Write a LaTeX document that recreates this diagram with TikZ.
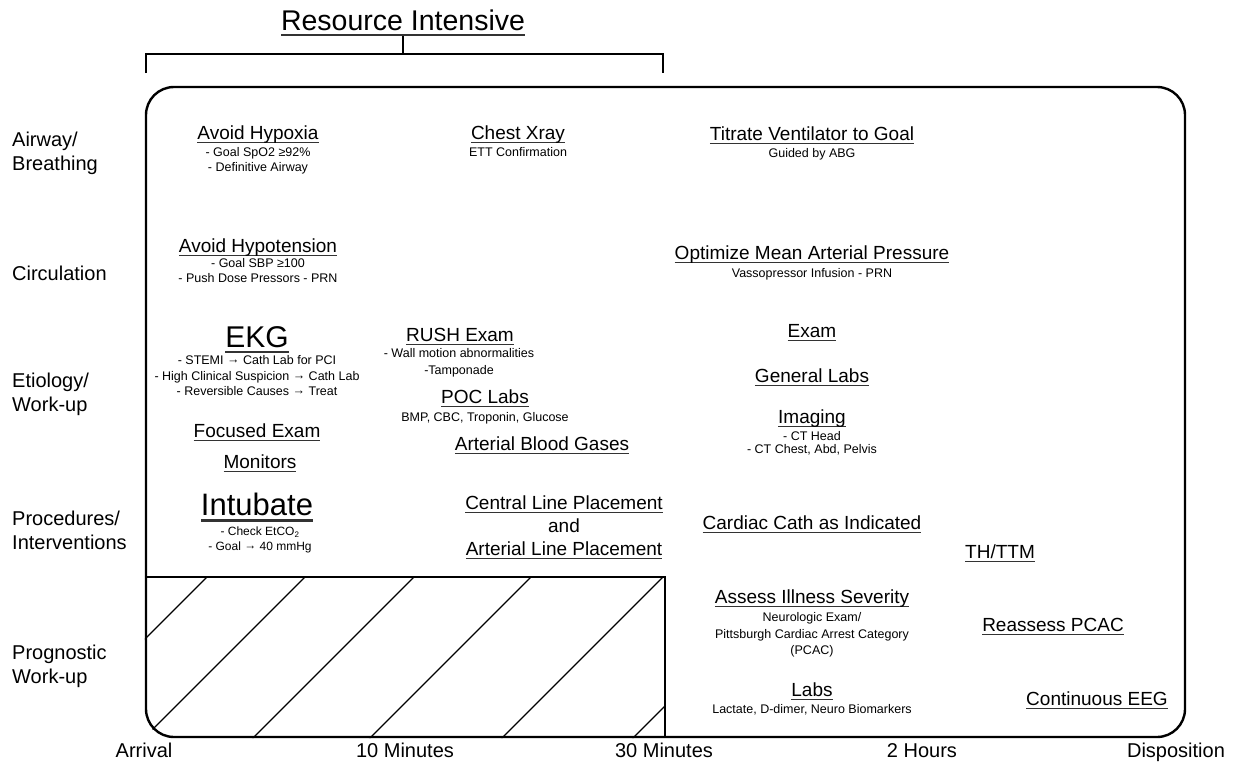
\documentclass[tikz,border=0pt]{standalone}
\usepackage{fontspec}
\setmainfont{Liberation Sans}
\usetikzlibrary{calc,positioning}
\newsavebox\hdbox
\newcommand{\hd}[1]{\leavevmode\sbox\hdbox{#1}\rlap{\color{black!80}\raisebox{-0.21em}{\rule{\wd\hdbox}{0.075em}}}\usebox\hdbox}
\newcommand{\ra}{\raisebox{0.08em}{→}}
\tikzset{
  every node/.style={inner sep=0pt},
  rowlab/.style={anchor=base west, align=left, font=\fontsize{20}{24.5}\selectfont},
  timelab/.style={anchor=base, font=\fontsize{20}{24}\selectfont},
  head/.style={anchor=base, font=\fontsize{19}{22}\selectfont},
  bighead/.style={anchor=base, font=\fontsize{30}{34}\selectfont},
  note/.style={anchor=base, align=center, font=\fontsize{12.5}{15.5}\selectfont},
  board/.style={draw, line width=2.4pt, rounded corners=28pt, minimum width=1039pt, minimum height=650pt},
  brace/.style={draw, line width=1.4pt},
  hatch/.style={line width=1.1pt},
  hatchedge/.style={line width=1.5pt},
}
\begin{document}
\begin{tikzpicture}[x=1pt,y=-1pt]
  \useasboundingbox (0,0) rectangle (1235,761);
  % frame and resource-intensive bracket
  \node[board] (board) at (665.5,412) {};
  \node[anchor=base, font=\fontsize{28.5}{32}\selectfont] (title) at (403,30) {\hd{Resource Intensive}};
  \coordinate (brkL) at (146,54);
  \coordinate (brkR) at (663,54);
  \draw[brace] (title.south) -- (title.south |- brkL);
  \draw[brace] ($(brkL)+(0,19)$) -- (brkL) -- (brkR) -- ++(0,19);

  % hatched corner
  \coordinate (hatchTR) at (665,577);
  \begin{scope}
    \clip[rounded corners=28pt] (board.north west) rectangle (board.south east);
    \clip (board.west |- hatchTR) rectangle (hatchTR |- board.south);
    \foreach \t in {207,305,414,531,663,794}
      \draw[hatch] (\t,577) -- ++(-175,175);
  \end{scope}
  \draw[hatchedge] (board.west |- hatchTR) -- (hatchTR) -- (hatchTR |- board.south);

  % row labels (base = last line)
  \node[rowlab] (rAir) at (12,170.5) {Airway/\\Breathing};
  \node[rowlab] (rCirc) at (12,280) {Circulation};
  \node[rowlab] (rEtio) at (12,411.5) {Etiology/\\Work-up};
  \node[rowlab] (rProc) at (12,549.5) {Procedures/\\Interventions};
  \node[rowlab] (rProg) at (12,683.5) {Prognostic\\Work-up};

  % time axis
  \node[timelab] (tArr) at (144,757) {Arrival};
  \node[timelab] (tTen) at (405,757) {10 Minutes};
  \node[timelab] (tThirty) at (664,757) {30 Minutes};
  \node[timelab] (tTwo) at (922,757) {2 Hours};
  \node[timelab] (tDisp) at (1176,757) {Disposition};

  % airway / breathing
  \node[head] (hypox) at (258,139) {\hd{Avoid Hypoxia}};
  \node[note, font=\fontsize{12.5}{15}\selectfont] (hypoxN) at ($(hypox.base)+(0,32.5)$) {- Goal SpO2 ≥92\%\\- Definitive Airway};
  \node[head] (xray) at (518,139) {\hd{Chest Xray}};
  \node[note] (xrayN) at ($(xray.base)+(0,17.5)$) {ETT Confirmation};
  \node[head] (vent) at (812,140) {\hd{Titrate Ventilator to Goal}};
  \node[note] (ventN) at ($(vent.base)+(0,17)$) {Guided by ABG};

  % circulation
  \node[head] (hypot) at (258,252) {\hd{Avoid Hypotension}};
  \node[note, font=\fontsize{12.5}{15}\selectfont] (hypotN) at ($(hypot.base)+(0,30.5)$) {- Goal SBP ≥100\\- Push Dose Pressors - PRN};
  \node[head] (map) at (812,259) {\hd{Optimize Mean Arterial Pressure}};
  \node[note] (mapN) at ($(map.base)+(0,18.5)$) {Vassopressor Infusion - PRN};

  % etiology / work-up
  \node[bighead] (ekg) at (257,347) {\hd{EKG}};
  \node[note] (ekgN) at ($(ekg.base)+(0,48.5)$) {- STEMI \ra{} Cath Lab for PCI\\- High Clinical Suspicion \ra{} Cath Lab\\- Reversible Causes \ra{} Treat};
  \node[head] (rush) at (460,341) {\hd{RUSH Exam}};
  \node[note, font=\fontsize{12.5}{17}\selectfont] (rushN) at ($(rush.base)+(-1,33.5)$) {- Wall motion abnormalities\\-Tamponade};
  \node[head] (poc) at (485,403) {\hd{POC Labs}};
  \node[note] (pocN) at ($(poc.base)+(0,18.5)$) {BMP, CBC, Troponin, Glucose};
  \node[head] (abg) at (542,450) {\hd{Arterial Blood Gases}};
  \node[head] (focus) at (257,437) {\hd{Focused Exam}};
  \node[head] (mon) at (260,468) {\hd{Monitors}};
  \node[head] (exam) at (812,337) {\hd{Exam}};
  \node[head] (glabs) at (812,382) {\hd{General Labs}};
  \node[head] (img) at (812,423) {\hd{Imaging}};
  \node[note, font=\fontsize{12.5}{13}\selectfont] (imgN) at ($(img.base)+(0,30.5)$) {- CT Head\\- CT Chest, Abd, Pelvis};

  % procedures / interventions
  \node[bighead, font=\fontsize{31}{34}\selectfont] (intub) at (257,515) {\hd{Intubate}};
  \node[note, font=\fontsize{12}{15}\selectfont] (intubN) at ($(intub.base)+(3,35.5)$) {- Check EtCO\textsubscript{2}\\- Goal \ra{} 40 mmHg};
  \node[head] (cvc) at (564,509) {\hd{Central Line Placement}};
  \node[head] (and) at (564,532) {and};
  \node[head] (art) at (564,555) {\hd{Arterial Line Placement}};
  \node[head] (cath) at (812,529) {\hd{Cardiac Cath as Indicated}};
  \node[head] (ttm) at (1000,558) {\hd{TH/TTM}};

  % prognostic work-up
  \node[head] (sev) at (812,603) {\hd{Assess Illness Severity}};
  \node[note, font=\fontsize{12.5}{16.5}\selectfont] (sevN) at ($(sev.base)+(0,51.5)$) {Neurologic Exam/\\Pittsburgh Cardiac Arrest Category\\(PCAC)};
  \node[head] (rpcac) at (1053,631) {\hd{Reassess PCAC}};
  \node[head] (labs) at (812,696) {\hd{Labs}};
  \node[note] (labsN) at ($(labs.base)+(0,17.5)$) {Lactate, D-dimer, Neuro Biomarkers};
  \node[head] (eeg) at (1097,705) {\hd{Continuous EEG}};
\end{tikzpicture}
\end{document}
